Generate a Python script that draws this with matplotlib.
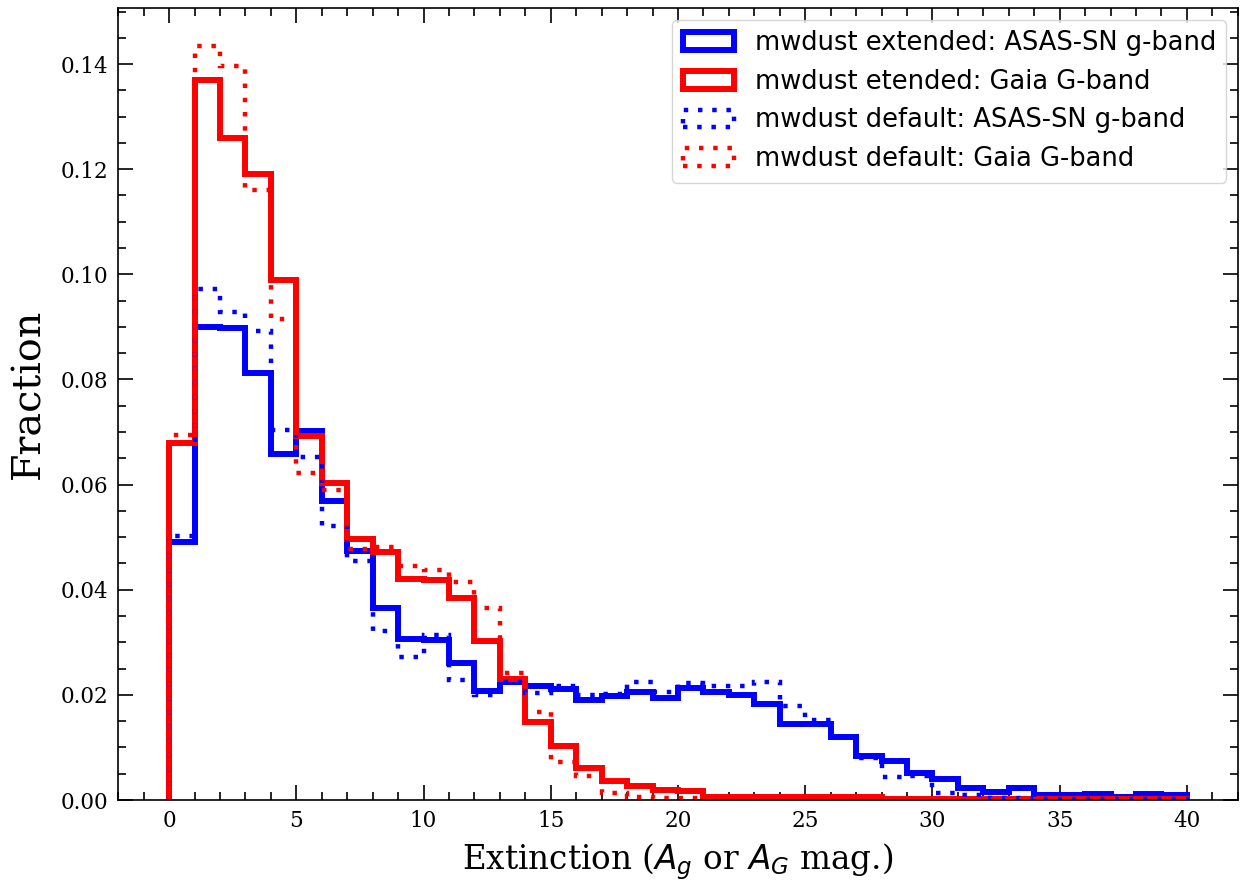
import matplotlib
matplotlib.use("Agg")
import matplotlib.pyplot as plt
import numpy as np

# bin edges in magnitudes (1 mag wide, 0-40)
EDGES = np.arange(0, 41, 1)

# fraction of sources per bin
ASASSN_EXT = [0.0490, 0.0900, 0.0897, 0.0812, 0.0659, 0.0702, 0.0568, 0.0474, 0.0366, 0.0307,
              0.0305, 0.0260, 0.0207, 0.0225, 0.0216, 0.0211, 0.0191, 0.0198, 0.0205, 0.0195,
              0.0214, 0.0206, 0.0199, 0.0182, 0.0144, 0.0144, 0.0120, 0.0084, 0.0075, 0.0051,
              0.0040, 0.0022, 0.0016, 0.0022, 0.0010, 0.0010, 0.0011, 0.0006, 0.0011, 0.0009]
GAIA_EXT = [0.0680, 0.1370, 0.1260, 0.1190, 0.0990, 0.0693, 0.0603, 0.0496, 0.0472, 0.0421,
            0.0418, 0.0385, 0.0303, 0.0231, 0.0149, 0.0103, 0.0060, 0.0037, 0.0027, 0.0019,
            0.0018, 0.0006, 0.0005, 0.0005, 0.0006, 0.0005, 0.0005, 0.0005, 0.0002, 0.0002,
            0.0001, 0.0001, 0.0001, 0.0001, 0.0001, 0.0001, 0.0001, 0.0001, 0.0001, 0.0001]
ASASSN_DEF = [0.0502, 0.0973, 0.0928, 0.0893, 0.0703, 0.0653, 0.0521, 0.0454, 0.0322, 0.0272,
              0.0313, 0.0228, 0.0199, 0.0224, 0.0203, 0.0217, 0.0199, 0.0202, 0.0225, 0.0206,
              0.0222, 0.0217, 0.0216, 0.0225, 0.0179, 0.0152, 0.0120, 0.0079, 0.0043, 0.0045,
              0.0013, 0.0010, 0.0004, 0.0004, 0.0002, 0.0002, 0.0002, 0.0002, 0.0002, 0.0002]
GAIA_DEF = [0.0695, 0.1435, 0.1397, 0.1161, 0.0915, 0.0622, 0.0589, 0.0478, 0.0481, 0.0445,
            0.0437, 0.0415, 0.0366, 0.0241, 0.0168, 0.0072, 0.0046, 0.0013, 0.0005, 0.0004,
            0.0003, 0.0002, 0.0002, 0.0002, 0.0002, 0.0002, 0.0002, 0.0002, 0.0001, 0.0001,
            0.0001, 0.0001, 0.0001, 0.0001, 0.0001, 0.0001, 0.0001, 0.0001, 0.0001, 0.0001]

LABELS = [
    "mwdust extended: ASAS-SN g-band",
    "mwdust etended: Gaia G-band",
    "mwdust default: ASAS-SN g-band",
    "mwdust default: Gaia G-band",
]

SERIF = {"family": "DejaVu Serif"}


def main():
    fig, ax = plt.subplots(figsize=(12.44, 8.84), dpi=100)
    fig.subplots_adjust(left=0.095, right=0.995, bottom=0.095, top=0.991)

    centers = EDGES[:-1] + 0.5
    dotted = (0, (1, 2.2))
    series = [
        (ASASSN_EXT, "blue", "-", 4.3),
        (GAIA_EXT, "red", "-", 4.3),
        (ASASSN_DEF, "blue", dotted, 3.2),
        (GAIA_DEF, "red", dotted, 3.2),
    ]
    for (vals, color, ls, lw), label in zip(series, LABELS):
        ax.hist(centers, bins=EDGES, weights=vals, histtype="step",
                color=color, linestyle=ls, linewidth=lw, label=label)

    ax.set_xticks(np.arange(0, 41, 5))
    ax.minorticks_on()
    ax.tick_params(which="both", direction="in", top=True, right=True, width=1.2)
    ax.tick_params(which="major", length=11, pad=7, labelsize=15.5)
    ax.tick_params(which="minor", length=5.5)
    for lab in ax.get_xticklabels() + ax.get_yticklabels():
        lab.set_family("DejaVu Serif")
    for sp in ax.spines.values():
        sp.set_linewidth(1.2)

    ax.set_xlabel("Extinction ($A_g$ or $A_G$ mag.)", fontsize=23.5, labelpad=7, **SERIF)
    ax.set_ylabel("Fraction", fontsize=28.5, **SERIF)
    ax.yaxis.set_label_coords(-0.063, 0.513)

    ax.legend(loc="upper right", fontsize=18.5, borderaxespad=0.45)

    fig.savefig("out.png", dpi=100)


if __name__ == "__main__":
    main()
